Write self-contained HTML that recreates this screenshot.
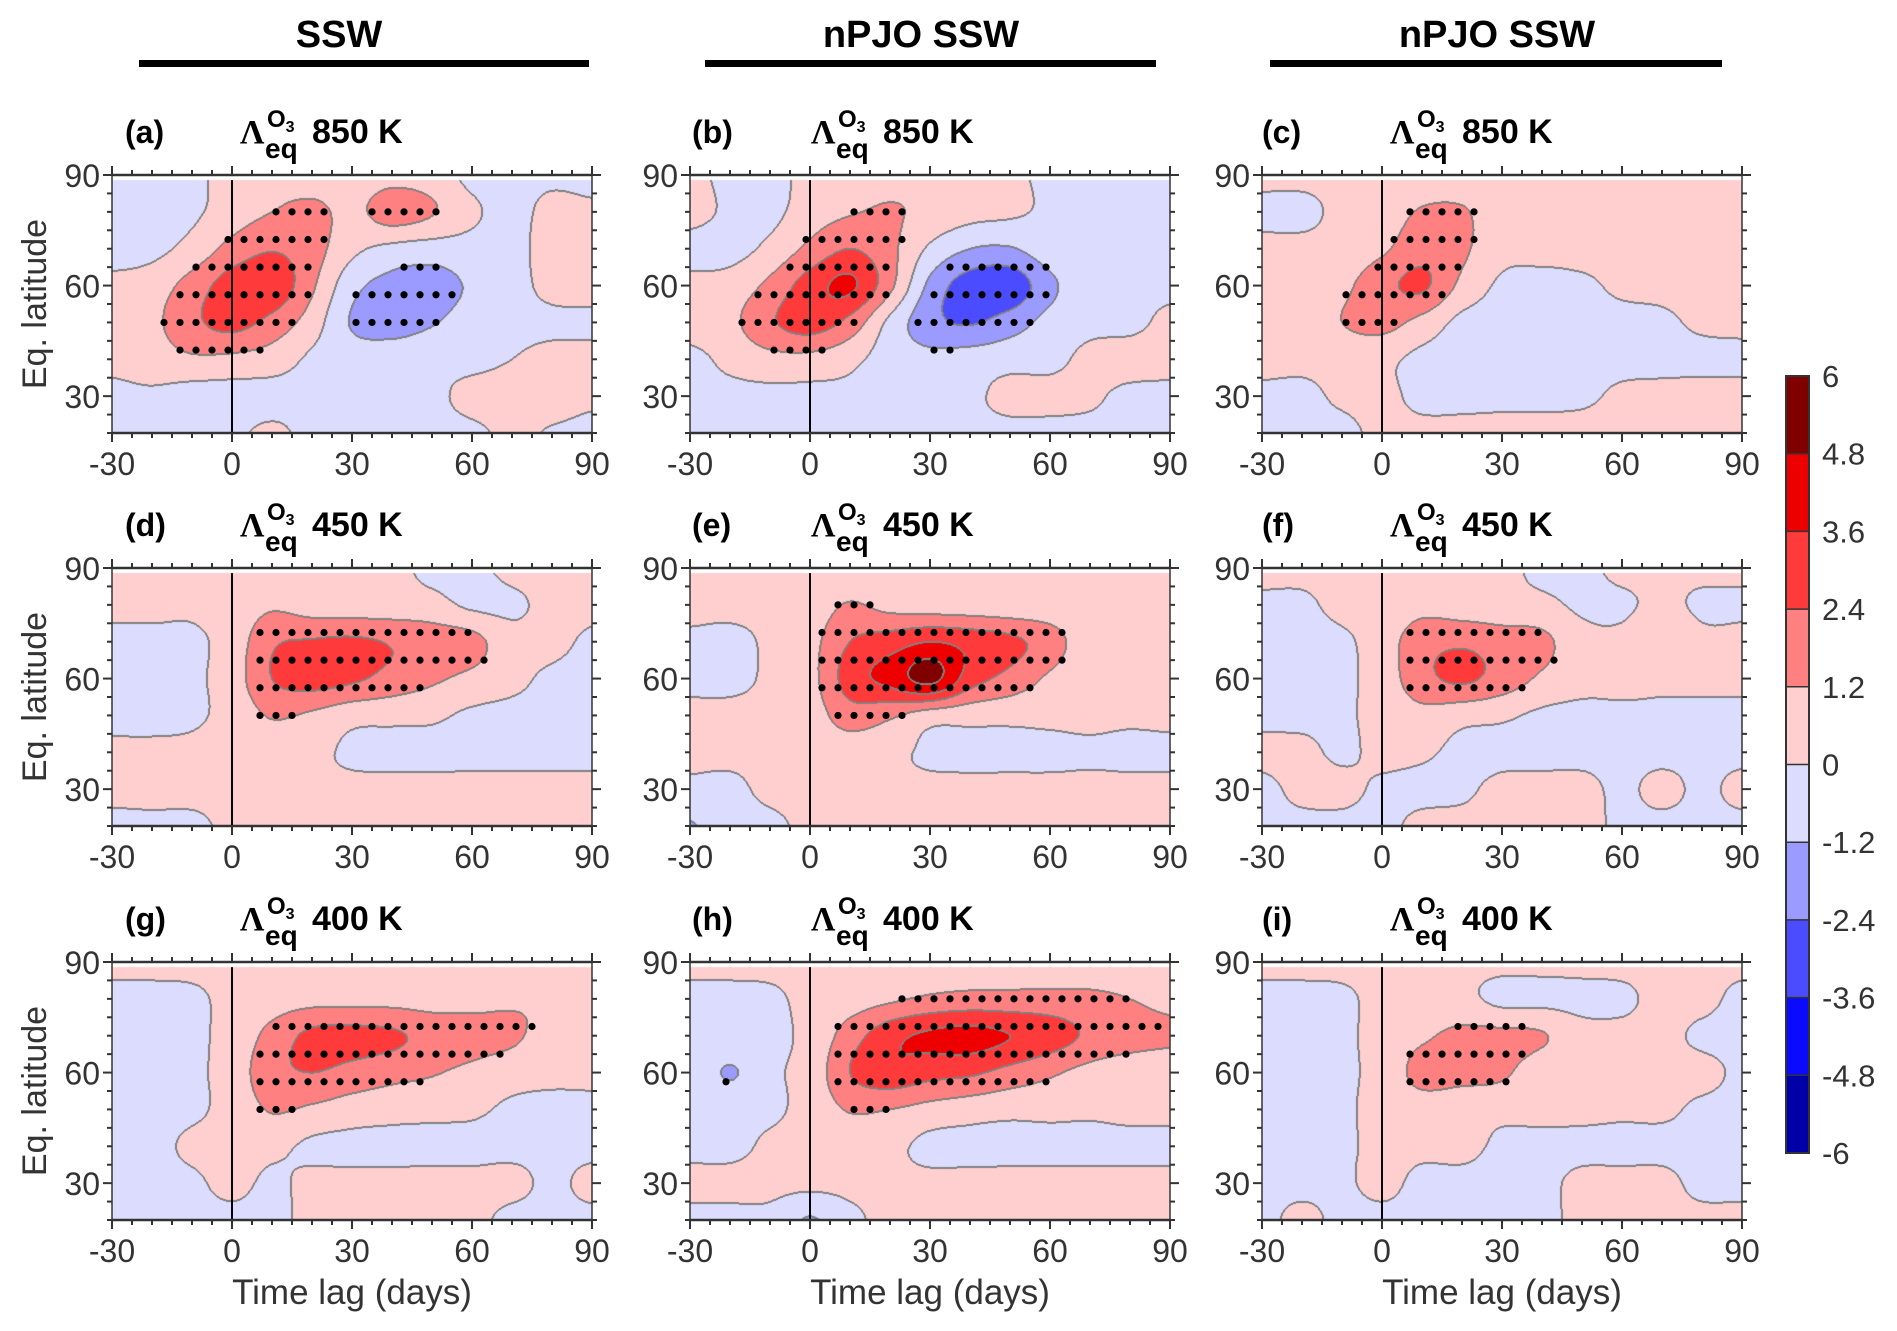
<!DOCTYPE html>
<html><head><meta charset="utf-8">
<style>
html,body{margin:0;padding:0;background:#fff;}
#wrap{position:relative;width:1897px;height:1331px;overflow:hidden;background:#fff;font-family:"Liberation Sans",sans-serif;}
canvas{position:absolute;}
svg{position:absolute;left:0;top:0;}
</style></head>
<body>
<div id="wrap">
<svg id="s" width="1897" height="1331"></svg>
</div>
<script>
// ---- data: anomaly grids, rows = latitude 90..20 step 10, cols = lag -30..90 step 10
const lagNodes = [-30,-20,-10,0,10,20,30,40,50,60,70,80,90];
const latNodes = [90,80,70,60,50,40,30,20];
const colorLevels = [-6,-4.8,-3.6,-2.4,-1.2,0,1.2,2.4,3.6,4.8,6];
const xTickLabels = [-30,0,30,60,90];
const yTickLabels = [30,60,90];
const columnTitles = ["SSW","nPJO SSW","nPJO SSW"];
const panelLetters = ["a","b","c","d","e","f","g","h","i"];
const panelLevels = ["850 K","850 K","850 K","450 K","450 K","450 K","400 K","400 K","400 K"];
const gridA = [
[-0.4,-0.4,-0.3,0.5,0.8,0.6,0.5,0.8,0.6,-0.3,-0.3,-0.2,-0.3],
[-0.5,-0.4,-0.2,0.6,1.2,1.5,0.9,1.8,1.3,0.2,-0.3,0.3,0.2],
[-0.5,-0.3,0.4,1.6,2.3,1.7,0.3,-0.3,-0.5,-0.4,-0.3,0.4,0.5],
[0.3,0.6,1.7,3.0,3.3,1.4,-0.8,-1.6,-1.8,-1.0,-0.4,0.3,0.4],
[0.4,0.9,2.1,2.8,2.0,0.6,-1.3,-1.7,-1.3,-0.6,-0.3,-0.2,-0.2],
[0.3,0.6,1.0,0.9,0.6,-0.2,-0.6,-0.5,-0.3,-0.3,0.0,0.3,0.3],
[-0.3,-0.2,-0.5,-0.5,-0.4,-0.3,-0.3,-0.2,-0.2,0.3,0.5,0.5,0.2],
[-0.4,-0.4,-0.3,-0.2,0.2,-0.3,-0.3,-0.3,-0.3,-0.2,0.2,-0.1,-0.3]];
const gridB = [
[0.3,-0.3,-0.4,0.4,0.8,0.9,0.9,0.4,0.3,-0.3,-0.3,-0.3,-0.3],
[0.4,-0.2,-0.3,0.6,1.1,1.3,0.9,0.4,0.2,-0.2,-0.3,-0.3,-0.3],
[-0.4,-0.4,0.3,1.5,2.4,1.5,-0.2,-1.2,-1.3,-0.5,-0.3,-0.3,-0.3],
[0.3,0.5,1.5,3.0,3.8,1.5,-1.5,-3.0,-3.2,-1.5,-0.3,-0.3,-0.3],
[0.5,0.9,2.2,3.0,2.0,-0.3,-2.0,-2.5,-1.8,-0.8,-0.3,-0.3,0.3],
[-0.3,0.3,0.8,0.8,0.3,-0.5,-0.8,-0.6,-0.4,-0.3,0.3,0.5,0.4],
[-0.3,-0.3,-0.3,-0.3,-0.2,-0.3,-0.3,-0.2,0.3,0.3,0.2,-0.3,-0.3],
[-0.3,-0.3,-0.3,-0.3,-0.3,-0.3,-0.3,-0.3,-0.3,-0.3,-0.3,-0.3,-0.3]];
const gridC = [
[0.3,0.3,0.3,0.4,0.6,0.6,0.5,0.5,0.4,0.4,0.4,0.4,0.4],
[-0.3,-0.3,0.3,0.6,1.3,1.3,0.6,0.5,0.5,0.5,0.5,0.5,0.4],
[0.3,0.3,0.4,1.0,1.9,1.4,0.4,0.3,0.4,0.4,0.5,0.5,0.4],
[0.3,0.4,0.9,2.0,2.6,0.9,-0.2,-0.3,-0.2,0.2,0.3,0.4,0.4],
[0.3,0.4,1.2,1.6,0.8,-0.3,-0.4,-0.4,-0.3,-0.3,-0.2,0.2,0.3],
[0.4,0.3,0.4,0.3,-0.3,-0.4,-0.4,-0.4,-0.3,-0.3,-0.3,-0.3,-0.3],
[-0.3,-0.3,0.2,0.3,-0.3,-0.3,-0.3,-0.3,-0.2,0.2,0.3,0.4,0.4],
[-0.3,-0.3,-0.3,0.3,0.3,0.3,0.4,0.4,0.4,0.4,0.4,0.4,0.4]];
const gridD = [
[0.3,0.3,0.3,0.3,0.3,0.3,0.3,0.3,-0.3,-0.3,0.3,0.3,0.3],
[0.3,0.3,0.2,0.4,1.0,0.6,0.5,0.5,0.4,-0.2,-0.2,0.3,0.3],
[-0.3,-0.3,-0.2,0.5,2.2,2.5,2.6,2.3,1.9,1.6,0.4,0.3,-0.2],
[-0.3,-0.3,-0.2,0.6,2.4,2.9,2.6,2.0,1.4,0.9,0.3,-0.2,-0.3],
[-0.4,-0.4,-0.2,0.4,1.3,1.0,0.4,0.3,0.2,-0.2,-0.3,-0.3,-0.3],
[0.3,0.3,0.3,0.5,0.5,0.3,-0.2,-0.3,-0.3,-0.3,-0.3,-0.3,-0.3],
[0.3,0.4,0.4,0.4,0.4,0.3,0.3,0.3,0.3,0.3,0.3,0.3,0.3],
[-0.3,-0.3,-0.3,0.3,0.3,0.3,0.3,0.3,0.3,0.3,0.3,0.3,0.3]];
const gridE = [
[0.3,0.3,0.3,0.3,0.3,0.3,0.3,0.3,0.3,0.3,0.3,0.3,0.3],
[0.3,0.3,0.3,0.5,1.3,0.8,0.6,0.5,0.4,0.4,0.3,0.3,0.3],
[-0.2,-0.3,0.2,0.8,2.4,3.0,3.6,3.2,2.7,1.8,0.4,0.3,0.3],
[-0.3,-0.3,0.2,0.8,3.0,4.0,5.2,3.0,2.0,1.0,0.3,0.2,0.3],
[0.3,0.3,0.3,0.6,1.8,1.4,0.6,0.4,0.3,0.3,0.3,0.2,0.3],
[0.3,0.3,0.3,0.5,0.5,0.3,-0.2,-0.3,-0.3,-0.3,-0.2,-0.3,-0.3],
[-0.3,-0.3,0.3,0.4,0.3,0.3,0.3,0.3,0.3,0.3,0.3,0.3,0.3],
[-1.3,-0.5,-0.3,0.3,0.3,0.3,0.3,0.3,0.3,0.3,0.3,0.3,0.3]];
const gridF = [
[0.3,0.3,0.3,0.3,0.3,0.3,0.3,-0.3,-0.3,0.3,0.3,0.3,0.3],
[-0.2,-0.2,0.3,0.4,0.8,0.5,0.4,0.3,-0.2,-0.2,0.3,-0.2,-0.2],
[-0.3,-0.3,-0.2,0.6,1.9,2.2,1.8,1.5,0.4,0.3,1.2,0.3,0.3],
[-0.3,-0.3,-0.2,0.5,2.0,2.6,1.9,1.0,0.4,0.3,0.3,0.3,0.3],
[-0.3,-0.3,-0.2,0.4,0.8,0.4,0.2,-0.2,-0.3,-0.2,-0.2,-0.3,-0.3],
[0.3,0.3,-0.2,0.3,0.2,-0.3,-0.3,-0.3,-0.3,-0.3,-0.3,-0.3,-0.3],
[-0.3,0.3,0.3,-0.2,-0.3,-0.2,0.3,0.3,0.3,-0.2,0.3,-0.2,0.3],
[-0.3,-0.3,-0.3,-0.3,0.3,0.3,0.3,0.3,0.3,-0.2,-0.3,-0.3,-0.3]];
const gridG = [
[0.3,0.3,0.3,0.3,0.3,0.3,0.3,0.3,0.3,0.3,0.3,0.3,0.3],
[-0.3,-0.3,-0.2,0.3,0.6,0.8,0.8,0.8,0.7,0.8,1.0,1.0,0.4],
[-0.3,-0.3,-0.2,0.4,1.6,2.7,2.8,2.6,2.0,1.7,1.4,0.7,0.4],
[-0.3,-0.3,-0.2,0.5,2.0,2.4,2.0,1.6,1.3,0.9,0.5,0.3,0.3],
[-0.3,-0.3,-0.2,0.4,1.3,1.0,0.6,0.4,0.3,0.2,-0.2,-0.3,-0.3],
[-0.3,-0.3,0.2,0.4,0.3,-0.2,-0.3,-0.3,-0.3,-0.3,-0.3,-0.3,-0.3],
[-0.3,-0.3,-0.2,0.3,-0.2,0.3,0.3,0.3,0.3,0.3,0.3,-0.2,0.3],
[-0.3,-0.3,-0.3,-0.3,-0.3,0.3,0.3,0.3,0.3,0.3,-0.3,-0.3,-0.3]];
const gridH = [
[0.3,0.3,0.3,0.3,0.3,0.3,0.3,0.3,0.3,0.3,0.3,0.3,0.3],
[-0.3,-0.3,-0.2,0.3,0.6,1.0,1.4,1.6,1.6,1.6,1.5,1.2,0.8],
[-0.3,-0.3,-0.2,0.3,1.8,3.2,3.8,4.0,3.6,3.0,2.2,1.8,1.5],
[-0.3,-1.3,-0.2,0.4,2.4,3.2,2.8,2.6,2.0,1.4,0.8,0.4,0.3],
[-0.3,-0.3,-0.2,0.4,1.3,1.2,0.8,0.5,0.3,0.3,0.2,0.3,0.3],
[-0.3,-0.3,0.2,0.4,0.4,0.3,-0.3,-0.3,-0.3,-0.3,-0.3,-0.3,-0.3],
[0.3,0.3,0.3,0.3,0.3,0.3,0.3,0.3,0.3,0.3,0.3,0.3,0.3],
[-0.3,-0.3,-0.3,-1.3,-0.3,0.3,0.3,0.3,0.3,0.3,0.3,0.3,0.3]];
const gridI = [
[0.3,0.3,0.3,0.3,0.3,0.3,0.3,0.3,0.3,0.3,0.3,0.3,0.3],
[-0.3,-0.3,-0.2,0.3,0.3,0.3,-0.3,-0.3,-0.3,-0.2,0.3,0.3,-0.3],
[-0.3,-0.3,-0.2,0.4,1.0,1.5,1.5,1.3,0.4,0.3,0.3,-0.2,-0.3],
[-0.3,-0.3,-0.2,0.4,1.6,1.6,1.4,0.5,0.4,0.5,0.3,0.3,-0.2],
[-0.3,-0.3,-0.2,0.4,0.6,0.4,0.3,0.3,0.3,0.2,0.2,-0.2,-0.3],
[-0.3,-0.3,-0.2,0.3,0.3,0.3,-0.2,-0.3,-0.3,-0.3,-0.3,-0.3,-0.3],
[-0.3,-0.3,-0.2,0.3,-0.3,-0.3,-0.3,-0.3,0.3,0.3,0.3,-0.3,-0.3],
[-0.3,0.3,-0.3,-0.3,-0.3,-0.3,-0.3,-0.3,0.3,0.3,0.3,0.3,0.3]];
const grids = [gridA,gridB,gridC,gridD,gridE,gridF,gridG,gridH,gridI];

// ---- layout
const colors = ["#0000a8","#0a0aff","#4b4bff","#9a9aff","#dcdcff","#ffcfcf","#ff8080","#ff3a3a","#ee0000","#800000"];
const colX = [112,690,1262], rowY = [175,568,962], PW = 480, PH = 258;
const letterOff = [13,2,0], lamOff = [128,121,128];
const NS = "http://www.w3.org/2000/svg";
const svg = document.getElementById('s');
const wrap = document.getElementById('wrap');
function el(tag, attrs, parent){const e=document.createElementNS(NS,tag);for(const k in attrs)e.setAttribute(k,attrs[k]);(parent||svg).appendChild(e);return e;}
function txt(str, attrs, parent){const e=el('text',attrs,parent);e.textContent=str;return e;}

function cr(p0,p1,p2,p3,t){return 0.5*((2*p1)+(-p0+p2)*t+(2*p0-5*p1+4*p2-p3)*t*t+(-p0+3*p1-3*p2+p3)*t*t*t);}
function sample(G, lag, lat){
  const fc=(lag+30)/10, fr=(90-lat)/10;
  const c=Math.floor(fc), r=Math.floor(fr), tc=fc-c, tr=fr-r;
  const nr=G.length, nc=G[0].length;
  const g=(i,j)=>G[Math.max(0,Math.min(nr-1,i))][Math.max(0,Math.min(nc-1,j))];
  const rows=[];
  for(let i=-1;i<=2;i++) rows.push(cr(g(r+i,c-1),g(r+i,c),g(r+i,c+1),g(r+i,c+2),tc));
  return cr(rows[0],rows[1],rows[2],rows[3],tr);
}
function levelIdx(v){let k=Math.floor(v/1.2)+5;return Math.max(0,Math.min(9,k));}
function hex(h){return [parseInt(h.substr(1,2),16),parseInt(h.substr(3,2),16),parseInt(h.substr(5,2),16)];}
const rgb = colors.map(hex);

for(let p=0;p<9;p++){
  const col=p%3,row=Math.floor(p/3);
  const x0=colX[col], y0=rowY[row], G=grids[p];
  const xs=t=>x0+(t+30)/120*PW;
  const ys=l=>y0+(90-l)/70*PH;
  const cv=document.createElement('canvas');
  cv.width=PW;cv.height=PH;cv.style.left=x0+'px';cv.style.top=y0+'px';
  
  
  wrap.insertBefore(cv,svg);
  const ctx=cv.getContext('2d');const im=ctx.createImageData(PW,PH);
  const lv=new Int8Array(PW*PH).fill(-1);
  for(let j=0;j<PH;j++){const lat=90-(j+0.5)/PH*70; if(lat>88.6) continue;
    for(let i=0;i<PW;i++){const t=-30+(i+0.5)/PW*120; lv[j*PW+i]=levelIdx(sample(G,t,lat));}}
  const line=new Uint8Array(PW*PH);
  for(let j=0;j<PH;j++)for(let i=0;i<PW;i++){const a=lv[j*PW+i];if(a<0)continue;
    if(i+1<PW&&lv[j*PW+i+1]>=0&&lv[j*PW+i+1]!==a){line[j*PW+i]=1;line[j*PW+i+1]=1;}
    if(j+1<PH&&lv[(j+1)*PW+i]>=0&&lv[(j+1)*PW+i]!==a){line[j*PW+i]=1;line[(j+1)*PW+i]=1;}}
  for(let k=0;k<PW*PH;k++){const a=lv[k];if(a<0)continue;const c=line[k]?[128,128,128]:rgb[a];
    im.data[k*4]=c[0];im.data[k*4+1]=c[1];im.data[k*4+2]=c[2];im.data[k*4+3]=255;}
  ctx.putImageData(im,0,0);
  const g=el('g',{});
  
  
  for(let lat=27.5;lat<=88;lat+=7.5){for(let t=-29;t<=89;t+=4){
    const v=sample(G,t,lat);
    if(Math.abs(v)>=1.1){const d=el('circle',{cx:xs(t),cy:ys(lat),r:3.6,fill:'#000'},g);
      
      }}}
  const zl=el('line',{x1:xs(0),x2:xs(0),y1:ys(88.6),y2:ys(20),stroke:'#000','stroke-width':2},g);
  
  
  const fr=el('rect',{x:x0,y:y0,width:PW,height:PH,fill:'none',stroke:'#333','stroke-width':1.5},g);
  
  
  el('line',{x1:x0,x2:x0+PW,y1:y0,y2:y0,stroke:'#333','stroke-width':2.5},g);
  el('line',{x1:x0,x2:x0+PW,y1:y0+PH,y2:y0+PH,stroke:'#333','stroke-width':2.5},g);
  for(let t=-30;t<=90;t+=5){const maj=t%30===0,L=maj?9:5;
    el('line',{x1:xs(t),x2:xs(t),y1:y0,y2:y0-L,stroke:'#333','stroke-width':2},g);
    el('line',{x1:xs(t),x2:xs(t),y1:y0+PH,y2:y0+PH+L,stroke:'#333','stroke-width':2},g);}
  for(let l=20;l<=90;l+=5){const maj=l%30===0,L=maj?9:5;
    el('line',{x1:x0,x2:x0-L,y1:ys(l),y2:ys(l),stroke:'#333','stroke-width':2},g);
    el('line',{x1:x0+PW,x2:x0+PW+L,y1:ys(l),y2:ys(l),stroke:'#333','stroke-width':2},g);}
  xTickLabels.forEach(t=>{const e=txt(String(t),{x:xs(t),y:y0+PH+42,'text-anchor':'middle','font-size':32,fill:'#333'},g);
    
    });
  yTickLabels.forEach(l=>{const e=txt(String(l),{x:x0-12,y:ys(l)+12,'text-anchor':'end','font-size':32,fill:'#333'},g);
    
    });
  const ty=y0-32;
  const lt=txt('('+panelLetters[p]+')',{x:x0+letterOff[col],y:ty,'font-size':32,'font-weight':'bold',fill:'#000'},g);
  
  
  const lx=x0+lamOff[col];
  const tt=el('text',{x:lx,y:ty,'font-size':34,'font-weight':'bold',fill:'#000'},g);
  
  
  const s1=el('tspan',{'font-family':'Liberation Serif'},tt);s1.textContent='Λ';
  const s2=el('tspan',{x:lx+27,y:ty-16,'font-size':24},tt);s2.textContent='O';
  const s3=el('tspan',{y:ty-11,'font-size':16},tt);s3.textContent='3';
  const s4=el('tspan',{x:lx+25,y:ty+15,'font-size':28},tt);s4.textContent='eq';
  const s5=el('tspan',{x:lx+72,y:ty},tt);s5.textContent=panelLevels[p];
  if(col===0){const yl=txt('Eq. latitude',{x:0,y:0,'text-anchor':'middle','font-size':34,fill:'#333',transform:`translate(46,${y0+PH/2}) rotate(-90)`});
    
    }
  if(row===2){const xl=txt('Time lag (days)',{x:x0+PW/2,y:1304,'text-anchor':'middle','font-size':35,fill:'#333'});
    
    }
}
const barX=[[139,589],[705,1156],[1270,1722]];
const headX=[339,921,1497];
columnTitles.forEach((s,i)=>{
  const h=txt(s,{x:headX[i],y:47,'text-anchor':'middle','font-size':38,'font-weight':'bold',fill:'#000'});
  
  
  const b=el('rect',{x:barX[i][0],y:60,width:barX[i][1]-barX[i][0],height:7,fill:'#000'});
  
  
});
const cbX=1786,cbW=23,cbTop=376,cbBot=1153;
const cb=el('g',{});


const cy=v=>cbBot-(v+6)/12*(cbBot-cbTop);
for(let k=0;k<10;k++){el('rect',{x:cbX,y:cy(colorLevels[k+1]),width:cbW,height:cy(colorLevels[k])-cy(colorLevels[k+1]),fill:colors[k]},cb);}
el('rect',{x:cbX,y:cbTop,width:cbW,height:cbBot-cbTop,fill:'none',stroke:'#333','stroke-width':2},cb);
colorLevels.forEach(v=>{el('line',{x1:cbX,x2:cbX+cbW,y1:cy(v),y2:cy(v),stroke:'#333','stroke-width':1.5},cb);
  const l=txt(String(v),{x:1822,y:cy(v)+11,'font-size':31,fill:'#333'},cb);
  
  });
</script>
</body></html>
